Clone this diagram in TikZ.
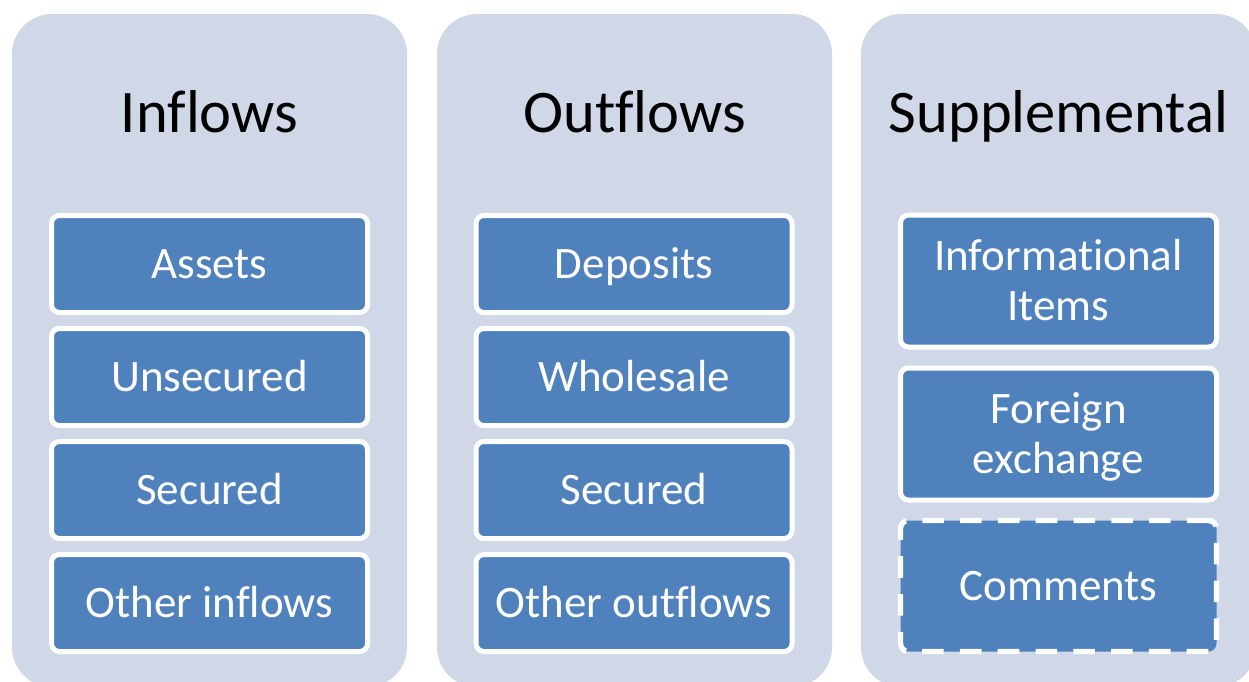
\documentclass[tikz,border=0pt]{standalone}
\usepackage{fontspec}
\setmainfont[Ligatures=NoCommon]{Carlito}
\definecolor{panelc}{RGB}{208,216,232}
\definecolor{boxc}{RGB}{79,129,189}
\begin{document}
\begin{tikzpicture}[x=1pt,y=-1pt,
  panel/.style={rectangle, fill=panelc, rounded corners=40pt, minimum width=395pt, minimum height=673pt, inner sep=0pt},
  title/.style={font=\fontsize{60.5}{72}\selectfont, text=black, text height=39pt, text depth=0pt, inner sep=0pt},
  item/.style={rectangle, draw=white, fill=boxc, line width=5pt, rounded corners=8pt,
     minimum width=316pt, minimum height=97pt, inner sep=0pt,
     font=\fontsize{45}{50}\selectfont, text=white, text height=29pt, text depth=0pt},
  tallitem/.style={item, minimum height=132pt, align=center, text height=79pt},
  dashitem/.style={item, minimum height=131pt, dash pattern=on 21.6pt off 16.2pt, line width=5.4pt}
]
\useasboundingbox (0,0) rectangle (1249,681);
\fill[white] (0,0) rectangle (1249,681);
\clip (0,0) rectangle (1249,681);

\node[panel] (p1) at (209.5,350.5) {};
\node[panel] (p2) at (634.5,350.5) {};
\node[panel] (p3) at (1058.5,350.5) {};

\node[title] (t1) at (209.5,112.5) {Inflows};
\node[title] (t2) at (634.5,112.5) {Outflows};
\node[title] (t3) at (1058.5,112.5) {Supplemental};

\node[item] (a1) at (209.5,264) {Assets};
\node[item] (a2) at (209.5,377) {Unsecured};
\node[item] (a3) at (209.5,490) {Secured};
\node[item] (a4) at (209.5,603) {Other inflows};

\node[item] (b1) at (634,264) {Deposits};
\node[item] (b2) at (634,377) {Wholesale};
\node[item] (b3) at (634,490) {Secured};
\node[item] (b4) at (634,603) {Other outflows};

\node[tallitem] (c1) at (1058.5,281) {Informational\\Items};
\node[tallitem] (c2) at (1058.5,434) {Foreign\\exchange};
\node[dashitem] (c3) at (1058.5,586) {Comments};
\end{tikzpicture}
\end{document}
